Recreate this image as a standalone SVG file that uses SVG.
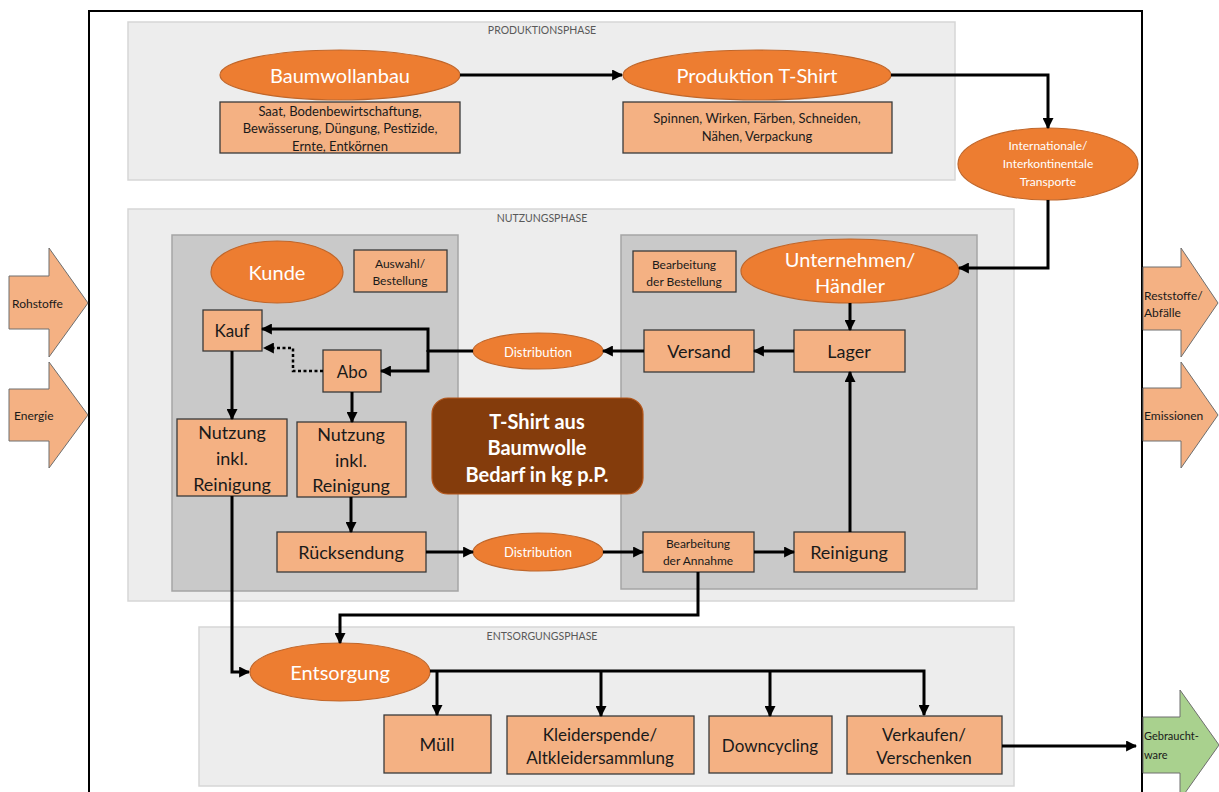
<svg xmlns="http://www.w3.org/2000/svg" width="1219" height="792" viewBox="0 0 1219 792">
<defs>
<marker id="ah" viewBox="0 0 10 10" refX="9" refY="5" markerWidth="11" markerHeight="11" markerUnits="userSpaceOnUse" orient="auto">
<path d="M0,0 L10,5 L0,10 z" fill="#000"/>
</marker>
</defs>
<style>
text{font-family:Lato,"Liberation Sans",sans-serif;text-anchor:middle;dominant-baseline:central}
.panel{fill:#EDEDED;stroke:#D6D6D6;stroke-width:1.5}
.inner{fill:#C9C9C9;stroke:#A5A5A5;stroke-width:1.5}
.box{fill:#F4B183;stroke:#3A3A3A;stroke-width:1.3}
.ell{fill:#ED7D31;stroke:#C0662A;stroke-width:1.2}
.io{fill:#F4B183;stroke:#6E6E6E;stroke-width:1}
.bt{fill:#1A1A1A}
.wt{fill:#FFFFFF}
.ph{fill:#595959;font-size:10.5px}
.con{fill:none;stroke:#000;stroke-width:3;marker-end:url(#ah)}
.line{fill:none;stroke:#000;stroke-width:3}
</style>
<rect width="1219" height="792" fill="#FFFFFF"/>
<!-- outer frame -->
<path d="M89,792 V11 H1142 V792" fill="none" stroke="#000" stroke-width="2"/>

<!-- panels -->
<g id="produktionsphase">
<rect class="panel" x="128" y="22" width="827" height="158"/>
<text class="ph" x="542" y="30">PRODUKTIONSPHASE</text>
</g>
<g id="nutzungsphase">
<rect class="panel" x="128" y="209" width="886" height="392"/>
<text class="ph" x="542" y="218">NUTZUNGSPHASE</text>
<rect class="inner" x="172" y="235" width="286" height="356"/>
<rect class="inner" x="621" y="235" width="356" height="354"/>
</g>
<g id="entsorgungsphase">
<rect class="panel" x="199" y="627" width="815" height="159"/>
<text class="ph" x="542" y="636">ENTSORGUNGSPHASE</text>
</g>

<!-- input/output arrows -->
<g id="rohstoffe">
<path class="io" d="M9,276 H49 V248 L88,303 L49,357 V329 H9 z"/>
<text class="bt" x="12" y="303" font-size="12" style="text-anchor:start">Rohstoffe</text>
</g>
<g id="energie">
<path class="io" d="M9,389 H49 V362 L88,415 L49,468 V441 H9 z"/>
<text class="bt" x="14" y="415" font-size="12" style="text-anchor:start">Energie</text>
</g>
<g id="reststoffe">
<path class="io" d="M1143,267 H1181 V248 L1218,303 L1181,357 V330 H1143 z"/>
<text class="bt" x="1144" y="295" font-size="12" style="text-anchor:start">Reststoffe/</text>
<text class="bt" x="1144" y="312" font-size="12" style="text-anchor:start">Abfälle</text>
</g>
<g id="emissionen">
<path class="io" d="M1143,388 H1181 V362 L1218,415 L1181,468 V441 H1143 z"/>
<text class="bt" x="1144" y="415" font-size="12" style="text-anchor:start">Emissionen</text>
</g>
<g id="gebrauchtware">
<path d="M1143,717 H1180 V690 L1219,745 L1180,800 V773 H1143 z" fill="#A9D18E" stroke="#6E6E6E" stroke-width="1"/>
<text class="bt" x="1144" y="735" font-size="11" style="text-anchor:start">Gebraucht-</text>
<text class="bt" x="1144" y="754" font-size="11" style="text-anchor:start">ware</text>
</g>

<!-- production -->
<g id="baumwollanbau">
<ellipse class="ell" cx="340" cy="75" rx="120" ry="25"/>
<text class="wt" x="340" y="75" font-size="20">Baumwollanbau</text>
</g>
<g id="baumwollanbau-details">
<rect class="box" x="220" y="102" width="240" height="51"/>
<text class="bt" x="340" y="111" font-size="13">Saat, Bodenbewirtschaftung,</text>
<text class="bt" x="340" y="128" font-size="13">Bewässerung, Düngung, Pestizide,</text>
<text class="bt" x="340" y="146" font-size="13">Ernte, Entkörnen</text>
</g>
<g id="produktion">
<ellipse class="ell" cx="757" cy="75" rx="134" ry="25"/>
<text class="wt" x="757" y="75" font-size="20">Produktion T-Shirt</text>
</g>
<g id="produktion-details">
<rect class="box" x="623" y="102" width="269" height="51"/>
<text class="bt" x="757" y="118" font-size="13">Spinnen, Wirken, Färben, Schneiden,</text>
<text class="bt" x="757" y="136" font-size="13">Nähen, Verpackung</text>
</g>
<g id="transporte">
<ellipse class="ell" cx="1048" cy="164" rx="90" ry="36"/>
<text class="wt" x="1048" y="145" font-size="12">Internationale/</text>
<text class="wt" x="1048" y="163" font-size="12">Interkontinentale</text>
<text class="wt" x="1048" y="181" font-size="12">Transporte</text>
</g>

<!-- usage left -->
<g id="kunde">
<ellipse class="ell" cx="277" cy="272" rx="66" ry="31"/>
<text class="wt" x="277" y="272" font-size="20">Kunde</text>
</g>
<g id="auswahl">
<rect class="box" x="354" y="250" width="93" height="42"/>
<text class="bt" x="400" y="263" font-size="12">Auswahl/</text>
<text class="bt" x="400" y="280" font-size="12">Bestellung</text>
</g>
<g id="kauf">
<rect class="box" x="203" y="310" width="59" height="41"/>
<text class="bt" x="232" y="330" font-size="17">Kauf</text>
</g>
<g id="abo">
<rect class="box" x="323" y="350" width="58" height="42"/>
<text class="bt" x="352" y="371" font-size="17">Abo</text>
</g>
<g id="nutzung1">
<rect class="box" x="177" y="419" width="110" height="77"/>
<text class="bt" x="232" y="432" font-size="18">Nutzung</text>
<text class="bt" x="232" y="458" font-size="18">inkl.</text>
<text class="bt" x="232" y="484" font-size="18">Reinigung</text>
</g>
<g id="nutzung2">
<rect class="box" x="297" y="422" width="109" height="75"/>
<text class="bt" x="351" y="434" font-size="18">Nutzung</text>
<text class="bt" x="351" y="460" font-size="18">inkl.</text>
<text class="bt" x="351" y="485" font-size="18">Reinigung</text>
</g>
<g id="ruecksendung">
<rect class="box" x="277" y="532" width="149" height="40"/>
<text class="bt" x="351" y="552" font-size="18">Rücksendung</text>
</g>
<g id="distribution1">
<ellipse class="ell" cx="538" cy="351" rx="65" ry="18"/>
<text class="wt" x="538" y="352" font-size="13">Distribution</text>
</g>
<g id="distribution2">
<ellipse class="ell" cx="538" cy="552" rx="65" ry="19"/>
<text class="wt" x="538" y="552" font-size="13">Distribution</text>
</g>
<g id="tshirt">
<rect x="432" y="398" width="211" height="96" rx="16" fill="#843C0C" stroke="#B5561A" stroke-width="1.2"/>
<text class="wt" x="537" y="421" font-size="20" font-weight="bold">T-Shirt aus</text>
<text class="wt" x="537" y="447" font-size="20" font-weight="bold">Baumwolle</text>
<text class="wt" x="537" y="474" font-size="20" font-weight="bold">Bedarf in kg p.P.</text>
</g>

<!-- usage right -->
<g id="bearbeitung-bestellung">
<rect class="box" x="633" y="251" width="103" height="41"/>
<text class="bt" x="684" y="264" font-size="12">Bearbeitung</text>
<text class="bt" x="684" y="281" font-size="12">der Bestellung</text>
</g>
<g id="unternehmen">
<ellipse class="ell" cx="850" cy="271" rx="109" ry="32"/>
<text class="wt" x="850" y="259" font-size="20">Unternehmen/</text>
<text class="wt" x="850" y="285" font-size="20">Händler</text>
</g>
<g id="lager">
<rect class="box" x="794" y="330" width="111" height="42"/>
<text class="bt" x="849" y="351" font-size="18">Lager</text>
</g>
<g id="versand">
<rect class="box" x="644" y="330" width="110" height="42"/>
<text class="bt" x="699" y="351" font-size="18">Versand</text>
</g>
<g id="bearbeitung-annahme">
<rect class="box" x="643" y="532" width="111" height="40"/>
<text class="bt" x="698" y="543" font-size="12">Bearbeitung</text>
<text class="bt" x="698" y="560" font-size="12">der Annahme</text>
</g>
<g id="reinigung">
<rect class="box" x="794" y="532" width="111" height="40"/>
<text class="bt" x="849" y="552" font-size="18">Reinigung</text>
</g>

<!-- disposal -->
<g id="entsorgung">
<ellipse class="ell" cx="340" cy="672" rx="90" ry="29"/>
<text class="wt" x="340" y="672" font-size="20">Entsorgung</text>
</g>
<g id="muell">
<rect class="box" x="384" y="715" width="107" height="58"/>
<text class="bt" x="437" y="744" font-size="18">Müll</text>
</g>
<g id="kleiderspende">
<rect class="box" x="507" y="716" width="187" height="58"/>
<text class="bt" x="600" y="734" font-size="17">Kleiderspende/</text>
<text class="bt" x="600" y="757" font-size="17">Altkleidersammlung</text>
</g>
<g id="downcycling">
<rect class="box" x="709" y="716" width="123" height="57"/>
<text class="bt" x="770" y="745" font-size="17">Downcycling</text>
</g>
<g id="verkaufen">
<rect class="box" x="847" y="716" width="155" height="58"/>
<text class="bt" x="924" y="734" font-size="17">Verkaufen/</text>
<text class="bt" x="924" y="757" font-size="17">Verschenken</text>
</g>

<!-- connectors -->
<g id="connectors">
<path class="con" d="M460,75 H622"/>
<path class="con" d="M891,75 H1048 V128"/>
<path class="con" d="M1048,200 V268 H959"/>
<path class="con" d="M850,303 V330"/>
<path class="con" d="M794,351 H754"/>
<path class="con" d="M644,351 H603"/>
<path class="line" d="M473,351 H428"/>
<path class="con" d="M428,352 V329 H262"/>
<path class="con" d="M428,350 V371 H381"/>
<path d="M323,371 H293 V348 H264" fill="none" stroke="#000" stroke-width="2.5" stroke-dasharray="3,2.5" marker-end="url(#ah)"/>
<path class="con" d="M232,351 V419"/>
<path class="con" d="M352,392 V422"/>
<path class="con" d="M351,497 V532"/>
<path class="con" d="M426,552 H473"/>
<path class="con" d="M603,552 H643"/>
<path class="con" d="M754,552 H794"/>
<path class="con" d="M850,532 V372"/>
<path class="con" d="M698,572 V615 H340 V643"/>
<path class="con" d="M232,496 V672 H249"/>
<path class="con" d="M430,671 H924 V715"/>
<path class="con" d="M437,671 V715"/>
<path class="con" d="M601,671 V716"/>
<path class="con" d="M770,671 V716"/>
<path class="con" d="M1002,746 H1136"/>
</g>
</svg>
